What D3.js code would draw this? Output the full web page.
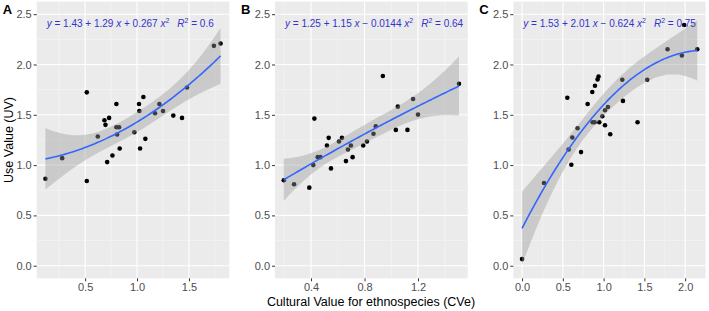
<!DOCTYPE html>
<html>
<head>
<meta charset="utf-8">
<script src="https://cdn.jsdelivr.net/npm/d3@7"></script>
<style>
  body { margin: 0; background: #fff; }
  text { font-family: "Liberation Sans", Arial, sans-serif; }
</style>
</head>
<body>
<div id="chart"></div>
<script>
// Panel A data (CVe, UV)
const cveA = [0.118, 0.279, 0.516, 0.516, 0.622, 0.686, 0.696, 0.731, 0.712, 0.763, 0.801, 0.801, 0.827, 0.808, 0.833,
              0.974, 1.019, 1.022, 1.061, 1.029, 1.080, 1.173, 1.215, 1.250, 1.349, 1.433, 1.481, 1.740, 1.804];
const uvA  = [0.865, 1.069, 1.723, 0.842, 1.284, 1.446, 1.400, 1.469, 1.030, 1.096, 1.608, 1.376, 1.376, 1.304, 1.165,
              1.327, 1.608, 1.538, 1.677, 1.165, 1.261, 1.515, 1.608, 1.538, 1.492, 1.469, 1.772, 2.185, 2.208];

// Panel B data
const cveB = [0.196, 0.273, 0.387, 0.425, 0.417, 0.450, 0.470, 0.519, 0.532, 0.549, 0.609, 0.631, 0.661, 0.676,
              0.698, 0.711, 0.790, 0.818, 0.867, 0.884, 0.937, 1.034, 1.049, 1.121, 1.163, 1.200, 1.506];
const uvB  = [0.849, 0.809, 0.776, 1.462, 1.000, 1.079, 1.079, 1.195, 1.271, 0.967, 1.235, 1.271, 1.040, 1.155,
              1.195, 1.079, 1.195, 1.235, 1.311, 1.386, 1.885, 1.350, 1.581, 1.350, 1.657, 1.502, 1.809];

// Panel C data
const cveC = [1.988, 1.784, 2.148, 1.960, 1.229, 1.535, 0.938, 0.926, 0.894, 0.861, 0.555, 0.804, 1.237, 1.053, 1.017,
              0.984, 0.865, 0.890, 0.947, 1.017, 1.416, 1.081, 0.681, 0.616, 0.571, 0.723, 0.604, 0.269, 0.000];
const uvC  = [2.393, 2.152, 2.152, 2.089, 1.848, 1.848, 1.881, 1.852, 1.789, 1.727, 1.670, 1.608, 1.638, 1.578, 1.545,
              1.485, 1.426, 1.426, 1.426, 1.396, 1.426, 1.307, 1.366, 1.274, 1.155, 1.129, 1.004, 0.822, 0.066];

const panelLetters = ["A", "B", "C"];
const equations = [
  { a: "1.43", b: "+ 1.29", c: "+ 0.267", r2: "0.6" },
  { a: "1.25", b: "+ 1.15", c: "\u2212 0.0144", r2: "0.64" },
  { a: "1.53", b: "+ 2.01", c: "\u2212 0.624", r2: "0.75" }
];
const xTicks = [[0.5, 1.0, 1.5], [0.4, 0.8, 1.2], [0.0, 0.5, 1.0, 1.5, 2.0]];
const xMinor = [[0.25, 0.75, 1.25, 1.75], [0.2, 0.6, 1.0, 1.4], [0.25, 0.75, 1.25, 1.75, 2.25]];
const yTicks = [0.0, 0.5, 1.0, 1.5, 2.0, 2.5];
const yMinor = [0.25, 0.75, 1.25, 1.75, 2.25];

const width = 709, height = 311;
const panels = [
  { left: 36.7, right: 229.3, xs: cveA, ys: uvA },
  { left: 275, right: 467.7, xs: cveB, ys: uvB },
  { left: 513.3, right: 706, xs: cveC, ys: uvC }
];
const plotTop = 1.6, plotBottom = 278.3;

const svg = d3.select("#chart").append("svg")
  .attr("width", width).attr("height", height);

const yScale = d3.scaleLinear().domain([-0.125, 2.625]).range([plotBottom, plotTop]);

// quadratic least squares fit with 95% confidence band
function inv3(m) {
  const [a, b, c] = m[0], [d, e, f] = m[1], [g, h, i] = m[2];
  const A = e * i - f * h, B = -(d * i - f * g), C = d * h - e * g;
  const det = a * A + b * B + c * C;
  return [
    [A / det, -(b * i - c * h) / det, (b * f - c * e) / det],
    [B / det, (a * i - c * g) / det, -(a * f - c * d) / det],
    [C / det, -(a * h - b * g) / det, (a * e - b * d) / det]
  ];
}
function tQuant(df) {
  const z = 1.959964;
  return z + (z ** 3 + z) / (4 * df) + (5 * z ** 5 + 16 * z ** 3 + 3 * z) / (96 * df * df);
}
function quadFit(xs, ys) {
  const n = xs.length;
  const XtX = [[0, 0, 0], [0, 0, 0], [0, 0, 0]], Xty = [0, 0, 0];
  xs.forEach((x, k) => {
    const v = [1, x, x * x];
    for (let i = 0; i < 3; i++) {
      Xty[i] += v[i] * ys[k];
      for (let j = 0; j < 3; j++) XtX[i][j] += v[i] * v[j];
    }
  });
  const M = inv3(XtX);
  const beta = M.map(r => r[0] * Xty[0] + r[1] * Xty[1] + r[2] * Xty[2]);
  const pred = x => beta[0] + beta[1] * x + beta[2] * x * x;
  const rss = d3.sum(xs, (x, k) => (ys[k] - pred(x)) ** 2);
  const s2 = rss / (n - 3);
  const t = tQuant(n - 3);
  const [lo, hi] = d3.extent(xs);
  return d3.range(81).map(k => {
    const x = lo + (hi - lo) * k / 80;
    const v = [1, x, x * x];
    let q = 0;
    for (let i = 0; i < 3; i++) for (let j = 0; j < 3; j++) q += v[i] * M[i][j] * v[j];
    const se = Math.sqrt(s2 * q);
    const y = pred(x);
    return { x, y, lo: y - t * se, hi: y + t * se };
  });
}

panels.forEach((p, idx) => {
  const [x0, x1] = d3.extent(p.xs);
  const pad = (x1 - x0) * 0.05;
  const xScale = d3.scaleLinear().domain([x0 - pad, x1 + pad]).range([p.left, p.right]);
  const g = svg.append("g");

  g.append("rect")
    .attr("x", p.left).attr("y", plotTop)
    .attr("width", p.right - p.left).attr("height", plotBottom - plotTop)
    .attr("fill", "#EBEBEB");

  // minor grid
  g.selectAll(".xminor").data(xMinor[idx]).enter().append("line")
    .attr("x1", d => xScale(d)).attr("x2", d => xScale(d))
    .attr("y1", plotTop).attr("y2", plotBottom)
    .attr("stroke", "#F7F7F7").attr("stroke-width", 0.6);
  g.selectAll(".yminor").data(yMinor).enter().append("line")
    .attr("x1", p.left).attr("x2", p.right)
    .attr("y1", d => yScale(d)).attr("y2", d => yScale(d))
    .attr("stroke", "#F7F7F7").attr("stroke-width", 0.6);

  // major grid
  g.selectAll(".xmajor").data(xTicks[idx]).enter().append("line")
    .attr("x1", d => xScale(d)).attr("x2", d => xScale(d))
    .attr("y1", plotTop).attr("y2", plotBottom)
    .attr("stroke", "#fff").attr("stroke-width", 1.1);
  g.selectAll(".ymajor").data(yTicks).enter().append("line")
    .attr("x1", p.left).attr("x2", p.right)
    .attr("y1", d => yScale(d)).attr("y2", d => yScale(d))
    .attr("stroke", "#fff").attr("stroke-width", 1.1);

  // axes
  const xAxis = d3.axisBottom(xScale).tickValues(xTicks[idx]).tickFormat(d3.format(".1f"))
    .tickSizeInner(3).tickSizeOuter(0).tickPadding(2);
  const xg = g.append("g").attr("transform", `translate(0,${plotBottom})`).call(xAxis);
  const yAxis = d3.axisLeft(yScale).tickValues(yTicks).tickFormat(d3.format(".1f"))
    .tickSizeInner(3).tickSizeOuter(0).tickPadding(2);
  const yg = g.append("g").attr("transform", `translate(${p.left},0)`).call(yAxis);
  [xg, yg].forEach(ax => {
    ax.select(".domain").remove();
    ax.selectAll("line").attr("stroke", "#333").attr("stroke-width", 1);
    ax.selectAll("text").attr("fill", "#4D4D4D").style("font-size", "11px")
      .style("font-family", "'Liberation Sans', Arial, sans-serif");
  });

  // points
  g.selectAll(".pt").data(p.xs).enter().append("circle")
    .attr("cx", d => xScale(d))
    .attr("cy", (d, i) => yScale(p.ys[i]))
    .attr("r", 2.3).attr("fill", "#000");

  // smooth
  const fit = quadFit(p.xs, p.ys);
  g.append("path").datum(fit)
    .attr("d", d3.area().x(d => xScale(d.x)).y0(d => yScale(d.lo)).y1(d => yScale(d.hi)))
    .attr("fill", "#999999").attr("fill-opacity", 0.4);
  g.append("path").datum(fit)
    .attr("d", d3.line().x(d => xScale(d.x)).y(d => yScale(d.y)))
    .attr("fill", "none").attr("stroke", "#3366FF").attr("stroke-width", 1.6);

  // equation label
  const eq = equations[idx];
  const lab = g.append("text")
    .attr("x", p.left + 10).attr("y", 26.5)
    .attr("fill", "#3333CC").style("font-size", "10px");
  lab.append("tspan").attr("font-style", "italic").text("y");
  lab.append("tspan").text(` = ${eq.a} ${eq.b} `);
  lab.append("tspan").attr("font-style", "italic").text("x");
  lab.append("tspan").text(` ${eq.c} `);
  lab.append("tspan").attr("font-style", "italic").text("x");
  lab.append("tspan").attr("dy", -4).style("font-size", "7px").text("2");
  lab.append("tspan").attr("dy", 4).attr("dx", 8).attr("font-style", "italic").text("R");
  lab.append("tspan").attr("dy", -4).style("font-size", "7px").text("2");
  lab.append("tspan").attr("dy", 4).text(` = ${eq.r2}`);

  // panel letter
  svg.append("text")
    .attr("x", p.left - 34).attr("y", 13.5)
    .style("font-size", "13px").style("font-weight", "bold")
    .text(panelLetters[idx]);
});

// axis titles
svg.append("text")
  .attr("transform", `translate(12.5,${(plotTop + plotBottom) / 2}) rotate(-90)`)
  .attr("text-anchor", "middle")
  .style("font-size", "12.5px")
  .text("Use Value (UV)");

svg.append("text")
  .attr("x", 371).attr("y", 305.5)
  .attr("text-anchor", "middle")
  .style("font-size", "12.5px")
  .text("Cultural Value for ethnospecies (CVe)");
</script>
</body>
</html>
